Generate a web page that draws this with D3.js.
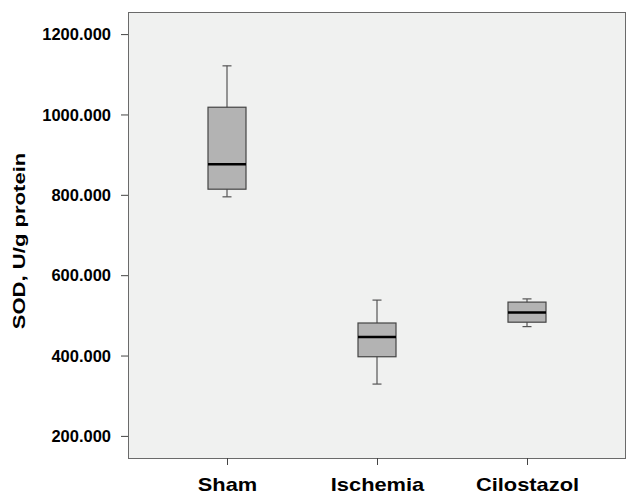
<!DOCTYPE html>
<html>
<head>
<meta charset="utf-8">
<script src="https://cdn.jsdelivr.net/npm/d3@7"></script>
<style>
  body { margin: 0; background: #fff; }
  text { font-family: Arial, "Liberation Sans", sans-serif; font-weight: bold; fill: #000; }
</style>
</head>
<body>
<div id="chart"></div>
<script>
// groepen en boxplot-waarden
const groups = ['Sham', 'Ischemia', 'Cilostazol']
const whiskerLow = [795, 329, 472]
const q1 = [814, 397, 483]
const median = [876, 446, 507]
const q3 = [1018, 481, 533]
const whiskerHigh = [1121, 538, 541]
const yTicks = [200, 400, 600, 800, 1000, 1200]

const width = 627
const height = 497
const margin = { top: 12, right: 1, bottom: 39, left: 128 }
const innerWidth = width - margin.left - margin.right
const innerHeight = height - margin.top - margin.bottom

const svg = d3.select('#chart').append('svg')
    .attr('width', width).attr('height', height)

const g = svg.append('g')
    .attr('transform', `translate(${margin.left}, ${margin.top})`)

const xScale = d3.scalePoint()
    .domain(groups)
    .range([0, innerWidth])
    .padding(0.66)

const yScale = d3.scaleLinear()
    .domain([145, 1255])
    .range([innerHeight, 0])

//tekst iets breder trekken, zoals in het origineel
function stretch(sel, factor) {
    sel.each(function () {
        const w = this.getComputedTextLength()
        d3.select(this)
            .attr('textLength', w * factor)
            .attr('lengthAdjust', 'spacingAndGlyphs')
    })
}

// plot achtergrond
g.append('rect')
    .attr('x', 0.5).attr('y', 0.5)
    .attr('width', innerWidth - 1).attr('height', innerHeight)
    .attr('fill', '#f0f1f0')
    .attr('stroke', '#6a6a6a')
    .attr('stroke-width', 1)

// assen
const yAxis = d3.axisLeft(yScale)
    .tickValues(yTicks)
    .tickSize(7)
    .tickPadding(10)
    .tickFormat(d3.format('.3f'))
const yAxisG = g.append('g').call(yAxis)
yAxisG.select('.domain').remove()
yAxisG.selectAll('line').attr('stroke', '#444')
yAxisG.selectAll('text').style('font-size', '16px').attr('dy', '0.35em')
    .call(stretch, 1.03)

const xAxis = d3.axisBottom(xScale)
    .tickSize(7)
    .tickPadding(13)
const xAxisG = g.append('g')
    .attr('transform', `translate(0, ${innerHeight})`)
    .call(xAxis)
xAxisG.select('.domain').remove()
xAxisG.selectAll('line').attr('stroke', '#444')
xAxisG.selectAll('text').style('font-size', '18.5px').attr('dy', '0.71em')
    .call(stretch, 1.18)

// y-as label
g.append('text')
    .attr('transform', 'rotate(-90)')
    .attr('x', -229)
    .attr('y', -103.5)
    .attr('text-anchor', 'middle')
    .style('font-size', '16px')
    .text('SOD, U/g protein')
    .call(stretch, 1.38)

// boxplots
const boxWidth = 38
const capWidth = 9
const boxes = g.selectAll('.box').data(groups).enter().append('g')
    .attr('class', 'box')
    .attr('transform', d => `translate(${xScale(d)}, 0)`)

boxes.append('line')
    .attr('y1', (d, i) => yScale(whiskerHigh[i]))
    .attr('y2', (d, i) => yScale(whiskerLow[i]))
    .attr('stroke', '#555').attr('stroke-width', 1.2)

boxes.append('line')
    .attr('x1', -capWidth / 2).attr('x2', capWidth / 2)
    .attr('y1', (d, i) => yScale(whiskerHigh[i]))
    .attr('y2', (d, i) => yScale(whiskerHigh[i]))
    .attr('stroke', '#555').attr('stroke-width', 1.2)

boxes.append('line')
    .attr('x1', -capWidth / 2).attr('x2', capWidth / 2)
    .attr('y1', (d, i) => yScale(whiskerLow[i]))
    .attr('y2', (d, i) => yScale(whiskerLow[i]))
    .attr('stroke', '#555').attr('stroke-width', 1.2)

boxes.append('rect')
    .attr('x', -boxWidth / 2)
    .attr('width', boxWidth)
    .attr('y', (d, i) => yScale(q3[i]))
    .attr('height', (d, i) => yScale(q1[i]) - yScale(q3[i]))
    .attr('fill', '#b3b3b3')
    .attr('stroke', '#444').attr('stroke-width', 1.2)

boxes.append('line')
    .attr('x1', -boxWidth / 2).attr('x2', boxWidth / 2)
    .attr('y1', (d, i) => yScale(median[i]))
    .attr('y2', (d, i) => yScale(median[i]))
    .attr('stroke', '#000').attr('stroke-width', 2.5)
</script>
</body>
</html>
